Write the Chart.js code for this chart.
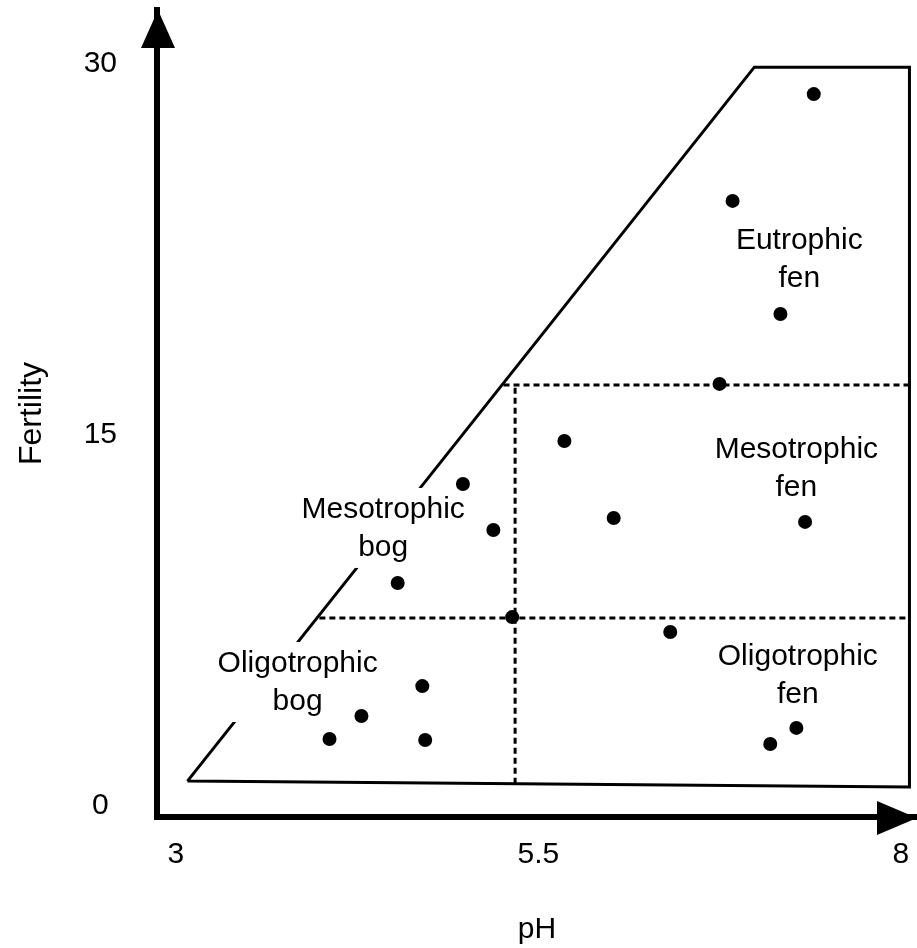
<!DOCTYPE html>
<html>
<head>
<meta charset="utf-8">
<title>Fertility vs pH</title>
<script src="https://cdn.jsdelivr.net/npm/chart.js@4.4.1/dist/chart.umd.min.js"></script>
<style>
  html, body { margin: 0; padding: 0; background: #fff; overflow: hidden; }
  /* 7px wider than the window: chart.js keeps a right margin for the last tick label */
  #wrap { width: 924px; height: 948px; }
</style>
</head>
<body>
<div id="wrap"><canvas id="myChart"></canvas></div>
<script>
// sample sites
const phValues = [7.40, 6.84, 7.17, 6.75, 5.68, 4.98, 5.19, 6.02, 7.34, 4.53, 5.32, 6.41, 4.70, 4.28, 4.06, 4.72, 7.28, 7.10];
const fertilityValues = [28.76, 24.44, 19.87, 17.04, 14.73, 12.99, 11.13, 11.62, 11.46, 8.99, 7.61, 7.01, 4.82, 3.61, 2.68, 2.64, 3.13, 2.48];

// outer boundary of the mire types
const outlinePh = [3.08, 6.99, 8.06, 8.06, 3.08];
const outlineFertility = [0.98, 29.85, 29.85, 0.74, 0.98];

// dashed boundaries between types
const boundaryVertical = { ph: [5.34, 5.34], fertility: [0.87, 17.0] };
const boundaryUpper = { ph: [5.26, 8.06], fertility: [17.0, 17.0] };
const boundaryLower = { ph: [3.99, 8.06], fertility: [7.57, 7.57] };

const xTicks = [3, 5.5, 8];
const yTicks = [0, 15, 30];

const regionNames = [['Eutrophic', 'fen'], ['Mesotrophic', 'fen'], ['Oligotrophic', 'fen'], ['Mesotrophic', 'bog'], ['Oligotrophic', 'bog']];
const regionPh = [7.30, 7.28, 7.29, 4.43, 3.84];
const regionFertility = [22.49, 14.04, 5.67, 11.62, 5.39];

const FONT = "'Liberation Sans', Arial, sans-serif";

function toXY(xs, ys) {
  return xs.map((x, i) => ({ x: x, y: ys[i] }));
}

const regionLabels = {
  id: 'regionLabels',
  afterDatasetDraw(chart, args) {
    if (args.index !== 0) return; // just after the outline
    const ctx = chart.ctx;
    const xs = chart.scales.x, ys = chart.scales.y;
    ctx.save();
    ctx.font = '30px ' + FONT;
    ctx.textAlign = 'center';
    ctx.textBaseline = 'alphabetic';
    regionNames.forEach((lines, i) => {
      const cx = xs.getPixelForValue(regionPh[i]);
      const by = ys.getPixelForValue(regionFertility[i]);
      const step = 38;
      const w = Math.max(...lines.map(t => ctx.measureText(t).width));
      // white box, it breaks the outline like in the original
      ctx.fillStyle = '#fff';
      ctx.fillRect(cx - w / 2 - 3, by - 30, w + 6, 30 + step * (lines.length - 1) + 12);
      ctx.fillStyle = '#000';
      lines.forEach((t, j) => ctx.fillText(t, cx, by + j * step));
    });
    ctx.restore();
  }
};

const axisArrows = {
  id: 'axisArrows',
  afterDraw(chart) {
    const ctx = chart.ctx;
    const a = chart.chartArea;
    ctx.save();
    ctx.fillStyle = '#000';
    ctx.beginPath();
    ctx.moveTo(a.left + 1, a.top);
    ctx.lineTo(a.left - 16, a.top + 38);
    ctx.lineTo(a.left + 18, a.top + 38);
    ctx.closePath();
    ctx.fill();
    ctx.beginPath();
    ctx.moveTo(a.right, a.bottom + 1);
    ctx.lineTo(a.right - 40, a.bottom - 16);
    ctx.lineTo(a.right - 40, a.bottom + 18);
    ctx.closePath();
    ctx.fill();
    ctx.restore();
  }
};

const dashed = { showLine: true, borderColor: '#000', borderWidth: 3, borderDash: [6, 4], pointRadius: 0, fill: false, order: 2 };

const ctx = document.getElementById('myChart');

new Chart(ctx, {
  type: 'scatter',
  data: {
    datasets: [
      { label: 'outline', data: toXY(outlinePh, outlineFertility), showLine: true, borderColor: '#000', borderWidth: 3, pointRadius: 0, fill: false, order: 3 },
      Object.assign({ label: 'pH boundary', data: toXY(boundaryVertical.ph, boundaryVertical.fertility) }, dashed),
      Object.assign({ label: 'upper boundary', data: toXY(boundaryUpper.ph, boundaryUpper.fertility) }, dashed),
      Object.assign({ label: 'lower boundary', data: toXY(boundaryLower.ph, boundaryLower.fertility) }, dashed),
      { label: 'sites', data: toXY(phValues, fertilityValues), pointRadius: 7, pointBackgroundColor: '#000', pointBorderWidth: 0, borderColor: '#000', order: 1 }
    ]
  },
  options: {
    responsive: true,
    maintainAspectRatio: false,
    animation: false,
    layout: { padding: { top: 10, right: 0, bottom: 0, left: 0 } },
    plugins: { legend: { display: false }, tooltip: { enabled: false } },
    scales: {
      x: {
        type: 'linear',
        min: 2.870,
        max: 8.112,
        grid: { display: false, drawTicks: false },
        border: { display: true, color: '#000', width: 6 },
        afterBuildTicks: s => { s.ticks = xTicks.map(v => ({ value: v })); },
        afterFit: s => { s.height = 131; s.paddingLeft = 0; s.paddingRight = 0; },
        ticks: { color: '#000', font: { family: FONT, size: 30 }, padding: 20, maxRotation: 0, callback: v => String(v) },
        title: { display: true, text: 'pH', color: '#000', font: { family: FONT, size: 30 }, padding: { top: 0, bottom: 0 } }
      },
      y: {
        type: 'linear',
        min: -0.473,
        max: 32.16,
        grid: { display: false, drawTicks: false },
        border: { display: true, color: '#000', width: 6 },
        afterBuildTicks: s => { s.ticks = yTicks.map(v => ({ value: v })); },
        afterFit: s => { s.width = 157; s.paddingTop = 0; s.paddingBottom = 0; },
        ticks: { color: '#000', font: { family: FONT, size: 30 }, padding: 40, crossAlign: 'center', callback: v => String(v) },
        title: { display: true, text: 'Fertility', color: '#000', font: { family: FONT, size: 32 }, padding: { top: 13, bottom: 0 } }
      }
    }
  },
  plugins: [regionLabels, axisArrows]
});
</script>
</body>
</html>
